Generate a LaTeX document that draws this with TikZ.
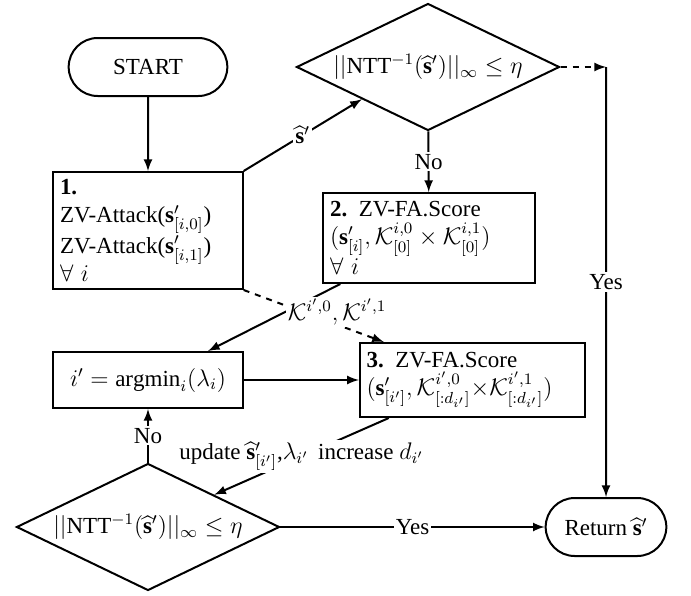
\documentclass[tikz,border=0pt]{standalone}
\usepackage{fontspec}
\setmainfont{Liberation Serif}
\usepackage{amsmath}
\usepackage{tikz}
\usetikzlibrary{calc, positioning, arrows.meta, shapes.geometric, shapes.misc}
\usetikzlibrary{shapes,arrows}

\begin{document}
\begin{tikzpicture}[x=0.5pt, y=-0.5pt, >=latex,
    font=\fontsize{11.5}{14}\selectfont,
    terminal/.style={draw, rounded rectangle, line width=1, minimum height=29pt},
    decision/.style={draw, diamond, line width=1, inner sep=0pt, aspect=2.07,
                     minimum width=131.5pt, minimum height=63.5pt},
    process/.style={draw, rectangle, line width=1, align=left},
    lbl/.style={fill=white, inner sep=1pt}]
      \useasboundingbox (0,0) rectangle (691,595);
      % nodes %
      \node[terminal, minimum width=86pt] (start) at (148,67) {START};
      \node[decision] (dec1) at (428,67)
        {$||\text{NTT}^{-1}(\widehat{\mathbf{s}}')||_\infty \leq \eta$};
      \node[process, text width=88pt, minimum height=58.5pt] (att) at (148,230.5)
        {\textbf{1.}\\
         ZV-Attack($\mathbf{s}'_{[i,0]}$)\\
         ZV-Attack($\mathbf{s}'_{[i,1]}$)\\
         $\forall\ i$};
      \node[process, text width=99pt, minimum height=45pt] (fa) at (429,238)
        {\textbf{2.} ZV-FA.Score\\
         $(\mathbf{s}'_{[i]}, \mathcal{K}^{i,0}_{[0]} \times \mathcal{K}^{i,1}_{[0]})$\\
         $\forall\ i$};
      \node[process, minimum width=95pt, minimum height=28pt] (amin) at (148,380)
        {$i' = \mathrm{argmin}_i(\lambda_i)$};
      \node[process, text width=106pt, minimum height=37pt] (fad) at (472.5,380)
        {\textbf{3.} ZV-FA.Score\\
         $(\mathbf{s}'_{[i']}, \mathcal{K}^{i',0}_{[:d_{i'}]}{\times}\mathcal{K}^{i',1}_{[:d_{i'}]})$};
      \node[decision] (dec2) at (148,527)
        {$||\text{NTT}^{-1}(\widehat{\mathbf{s}}')||_\infty \leq \eta$};
      \node[terminal, minimum width=67pt] (ret) at (606,527)
        {Return $\widehat{\mathbf{s}}'$};
      \coordinate (corner) at (ret.north |- dec1.east);
      % edges %
      \draw[->, line width= 1] (start) -- (att);
      \draw[->, line width= 1] (att.north east) -- node[lbl, midway] {$\widehat{\mathbf{s}}'$} (dec1.south west);
      \draw[->, line width= 1] (dec1) -- node[lbl, midway] {No} (fa);
      \draw[->, line width= 1, dashed] (dec1.east) -- (corner);
      \draw[->, line width= 1] (corner) -- node[lbl, midway] {Yes} (ret);
      \draw[->, line width= 1, dashed] (att.south east) -- ([xshift=12.5pt]fad.north west);
      \draw[->, line width= 1] ([xshift=9pt]fa.south west) --
        node[lbl, pos=0.42, anchor=west] {$\mathcal{K}^{i',0}, \mathcal{K}^{i',1}$}
        ([xshift=-18pt]amin.north east);
      \draw[->, line width= 1] (amin) -- (fad);
      \draw[->, line width= 1] ([xshift=15pt]fad.south west) --
        node[lbl, midway] {update $\widehat{\mathbf{s}}'_{[i']}$,$\lambda_{i'}$\, increase $d_{i'}$}
        (dec2.north east);
      \draw[->, line width= 1] (dec2) -- node[lbl, midway] {No} (amin);
      \draw[->, line width= 1] (dec2) -- node[lbl, midway] {Yes} (ret);
    \end{tikzpicture}
\end{document}
